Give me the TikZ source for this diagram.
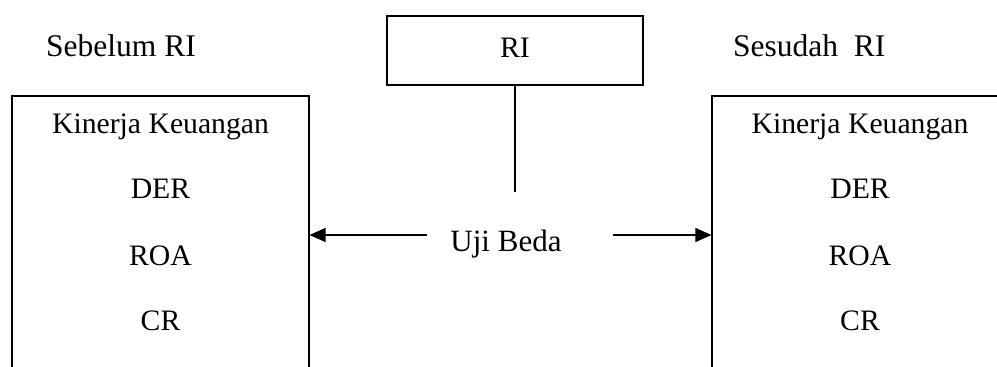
\documentclass[tikz,border=0pt]{standalone}
\usepackage{fontspec}
\setmainfont{Liberation Serif}
\usetikzlibrary{arrows.meta}
\tikzset{
  txt/.style={inner sep=0pt, anchor=base, font=\fontsize{29.7}{36}\selectfont},
  bigtxt/.style={inner sep=0pt, anchor=base, font=\fontsize{31}{37}\selectfont},
  headtxt/.style={inner sep=0pt, anchor=base west, font=\fontsize{31.5}{38}\selectfont},
  framebox/.style={draw, line width=1.1pt, inner sep=0pt},
  conn/.style={line width=1.3pt},
  arr/.style={line width=1.3pt, -{Triangle[length=16pt,width=14pt]}}
}
\begin{document}
\begin{tikzpicture}[x=1pt,y=-1pt]
\useasboundingbox (0,0) rectangle (997,367);
\clip (0,0) rectangle (997,367);
\fill[white] (0,0) rectangle (997,367);
% boxes
\node[framebox, minimum width=297pt, minimum height=304pt] (lbox) at (160.5,248) {};
\node[framebox, minimum width=297pt, minimum height=304pt] (rbox) at (860.5,248) {};
\node[framebox, minimum width=256pt, minimum height=69pt] (ri) at (515,50.5) {};
\node[txt] (ritxt) at (515,57) {RI};
% headings
\node[headtxt] (sebelum) at (46,56) {Sebelum RI};
\node[headtxt] (sesudah) at (733,56) {Sesudah\ \ RI};
% left box texts
\node[txt] (lk) at (160.5,133) {Kinerja Keuangan};
\node[txt] (lder) at (160.5,198) {DER};
\node[txt] (lroa) at (160.5,265) {ROA};
\node[txt] (lcr) at (160.5,330) {CR};
% right box texts
\node[txt] (rk) at (860,133) {Kinerja Keuangan};
\node[txt] (rder) at (860,198) {DER};
\node[txt] (rroa) at (860,265) {ROA};
\node[txt] (rcr) at (860,330) {CR};
% uji beda
\node[bigtxt] (uji) at (506,251) {Uji Beda};
\coordinate (lineend) at (515,192);
\coordinate (la) at (427,235);
\coordinate (ra) at (613,235);
\draw[conn] (ri.south) -- (lineend);
\draw[arr] (la) -- (la -| lbox.east);
\draw[arr] (ra) -- (ra -| rbox.west);
\end{tikzpicture}
\end{document}
